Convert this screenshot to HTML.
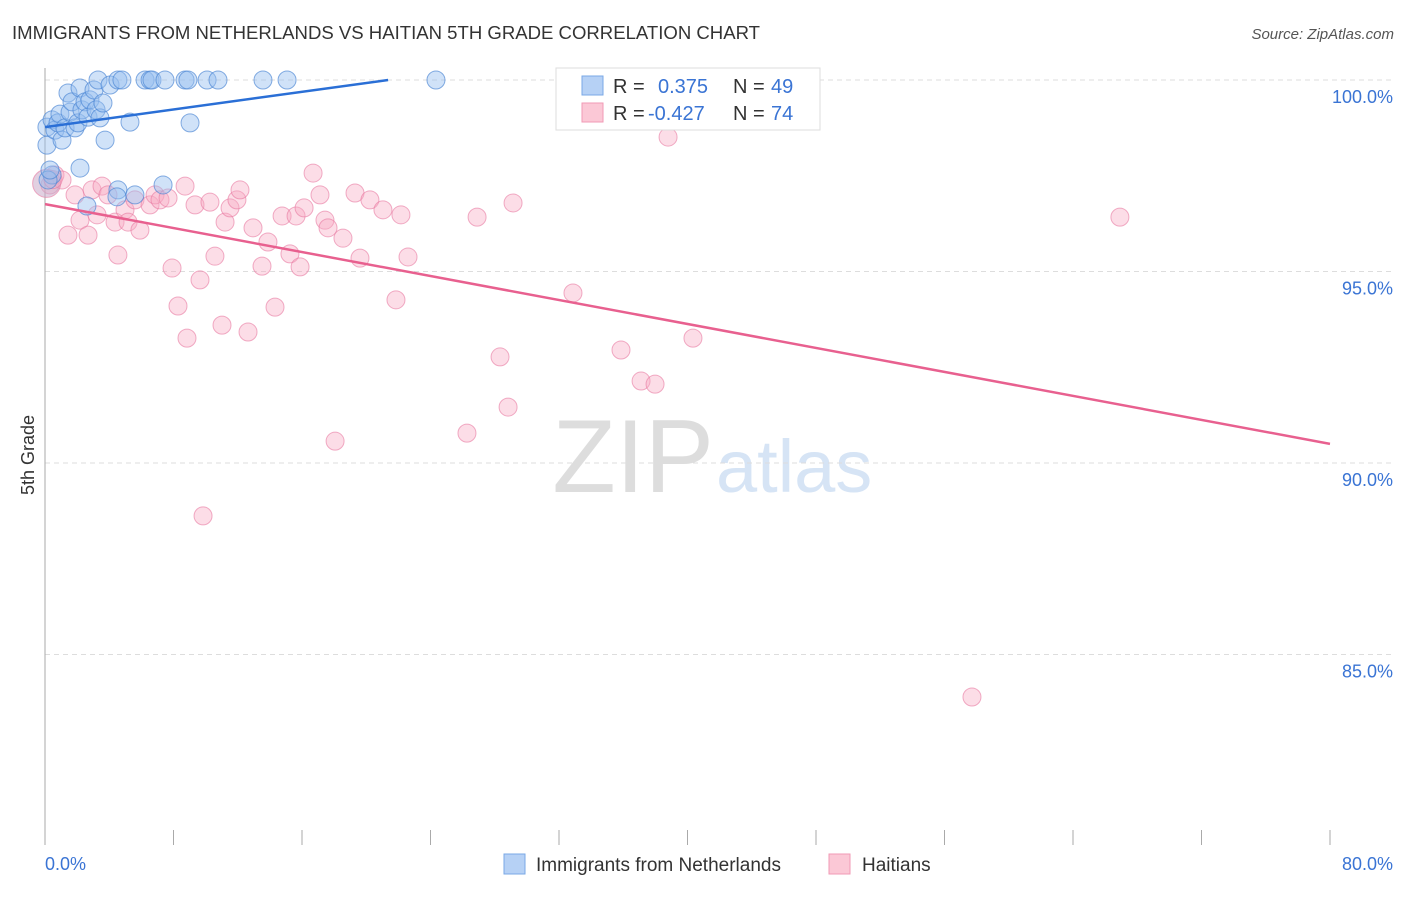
<!DOCTYPE html>
<html><head><meta charset="utf-8"><style>
body{margin:0;background:#fff;font-family:"Liberation Sans",sans-serif;}
svg text{font-family:"Liberation Sans",sans-serif;}
</style></head><body>
<svg id="chart" width="1406" height="892" viewBox="0 0 1406 892">
<text x="12" y="39" font-size="18" fill="#333" textLength="748" lengthAdjust="spacingAndGlyphs">IMMIGRANTS FROM NETHERLANDS VS HAITIAN 5TH GRADE CORRELATION CHART</text>
<text x="1394" y="39" font-size="15" fill="#555" text-anchor="end" font-style="italic">Source: ZipAtlas.com</text>
<text x="714" y="492" font-size="104" fill="#ddd" text-anchor="end" font-family="Liberation Serif">ZIP</text>
<text x="716" y="492" font-size="74" fill="#d6e4f5">atlas</text>
<g id="grid"></g>
<g id="axes"></g>
<g id="marks"></g>
<text x="34" y="455" font-size="18" fill="#333" text-anchor="middle" transform="rotate(-90 34 455)">5th Grade</text>
<g>
<rect x="556" y="68" width="264" height="62" fill="#fff" stroke="#ddd"/>
<rect x="582" y="76" width="21" height="19" fill="#b6d1f5" stroke="#7aa8e6"/>
<rect x="582" y="103" width="21" height="19" fill="#fbc8d6" stroke="#f09ab5"/>
<text x="613" y="93" font-size="20" fill="#333">R =</text>
<text x="658" y="93" font-size="20" fill="#3a74d4">0.375</text>
<text x="733" y="93" font-size="20" fill="#333">N =</text>
<text x="771" y="93" font-size="20" fill="#3a74d4">49</text>
<text x="613" y="120" font-size="20" fill="#333">R =</text>
<text x="648" y="120" font-size="20" fill="#3a74d4">-0.427</text>
<text x="733" y="120" font-size="20" fill="#333">N =</text>
<text x="771" y="120" font-size="20" fill="#3a74d4">74</text>
</g>
<g>
<rect x="504" y="854" width="21" height="20" fill="#b6d1f5" stroke="#7aa8e6"/>
<text x="536" y="871" font-size="19" fill="#333">Immigrants from Netherlands</text>
<rect x="829" y="854" width="21" height="20" fill="#fbc8d6" stroke="#f09ab5"/>
<text x="862" y="871" font-size="19" fill="#333">Haitians</text>
</g>
</svg>
<script>
const blueX=[0.12,0.12,0.44,0.62,0.81,0.93,1.06,1.25,1.43,1.56,1.68,1.87,2.05,2.18,2.30,2.49,2.68,2.80,3.05,3.18,3.30,3.42,3.61,3.74,4.05,4.54,4.79,5.29,6.23,6.54,6.66,7.47,8.72,8.90,9.03,10.09,10.77,13.57,15.07,24.34,2.18,4.54,4.48,5.60,7.35,2.61,0.44,0.19,0.31];
const blueY=[98.30,98.77,98.96,98.69,98.88,99.11,98.43,98.75,99.66,99.16,99.43,98.75,98.88,99.79,99.22,99.43,99.03,99.48,99.74,99.22,100,99.01,99.40,98.43,99.87,100,100,98.90,100,100,100,100,100,100,98.88,100,100,100,100,100,97.70,97.13,96.95,97.00,97.26,96.71,97.52,97.39,97.65];
const pinkX=[0.31,0.62,1.06,1.87,2.18,2.68,1.43,2.93,3.24,3.55,3.92,4.36,4.54,4.98,5.17,5.60,5.91,6.54,6.85,7.16,7.66,7.91,8.28,8.72,8.84,9.34,9.65,9.84,10.27,10.58,11.02,11.21,11.52,11.95,12.14,12.64,12.95,13.51,13.88,14.32,14.76,15.25,15.63,15.88,16.13,16.69,17.12,17.43,17.62,18.06,18.55,19.30,19.61,20.23,21.04,21.85,22.16,22.60,26.27,26.90,28.33,28.83,29.14,32.87,33.12,35.86,37.11,37.98,38.79,40.34,57.71,66.92,0.1,0.5];
const pinkY=[97.26,97.52,97.39,97.00,96.34,95.95,95.95,97.13,96.48,97.23,97.00,96.29,95.43,96.61,96.29,96.87,96.08,96.74,97.00,96.87,96.92,95.09,94.10,97.23,93.26,96.74,94.78,88.62,96.81,95.40,93.60,96.29,96.66,96.87,97.13,93.42,96.14,95.14,95.77,94.07,96.45,95.46,96.45,95.12,96.66,97.57,97.00,96.34,96.14,90.57,95.87,97.05,95.35,96.87,96.61,94.26,96.48,95.38,90.78,96.42,92.77,91.46,96.79,94.44,100,92.95,92.14,92.06,98.51,93.26,83.89,96.42,97.3,97.4];
const yTicks=[100,95,90,85];
const yTickLabels=["100.0%","95.0%","90.0%","85.0%"];
const xTicks=[0,8,16,24,32,40,48,56,64,72,80];
const blueTrend=[[0,98.77],[21.36,100]];
const pinkTrend=[[0,96.76],[80,90.50]];
const X0=45,X1=1330,Y100=80,PXPER=38.3;
const sx=v=>X0+(v/80)*(X1-X0);
const sy=v=>Y100+(100-v)*PXPER;
const NS="http://www.w3.org/2000/svg";
function mk(tag,attrs,parent){const e=document.createElementNS(NS,tag);for(const k in attrs)e.setAttribute(k,attrs[k]);parent.appendChild(e);return e;}
const grid=document.getElementById('grid'),axes=document.getElementById('axes'),marks=document.getElementById('marks');
yTicks.forEach((t,i)=>{
 const l=mk('line',{x1:X0,x2:1395,y1:sy(t),y2:sy(t),stroke:'#ddd','stroke-dasharray':'5,4'},grid);
 
 
 const tx=mk('text',{x:1393,y:sy(t)+23,'font-size':18,fill:'#3a74d4','text-anchor':'end'},axes);
 tx.textContent=yTickLabels[i];
 
 
});
const ya=mk('line',{x1:X0,x2:X0,y1:68,y2:845,stroke:'#aaa'},axes);


xTicks.forEach(t=>{
 const l=mk('line',{x1:sx(t),x2:sx(t),y1:830,y2:845,stroke:'#aaa'},axes);
 
 
});
const xl0=mk('text',{x:45,y:870,'font-size':18,fill:'#3a74d4'},axes);xl0.textContent='0.0%';


const xl1=mk('text',{x:1393,y:870,'font-size':18,fill:'#3a74d4','text-anchor':'end'},axes);xl1.textContent='80.0%';


pinkX.forEach((x,i)=>{
 const big=(i===pinkX.length-2);
 const c=mk('circle',{cx:sx(x),cy:sy(pinkY[i]),r:big?14:9,fill:big?'rgba(200,170,200,0.55)':'rgba(248,170,195,0.4)',stroke:'rgba(232,120,160,0.6)','stroke-width':1},marks);
 
 
});
blueX.forEach((x,i)=>{
 const c=mk('circle',{cx:sx(x),cy:sy(blueY[i]),r:9,fill:'rgba(150,190,240,0.45)',stroke:'rgba(70,130,210,0.65)','stroke-width':1},marks);
 
 
});
const bt=mk('line',{x1:sx(blueTrend[0][0]),y1:sy(blueTrend[0][1]),x2:sx(blueTrend[1][0]),y2:sy(blueTrend[1][1]),stroke:'#2a6fd6','stroke-width':2.5},marks);


const pt=mk('line',{x1:sx(pinkTrend[0][0]),y1:sy(pinkTrend[0][1]),x2:sx(pinkTrend[1][0]),y2:sy(pinkTrend[1][1]),stroke:'#e8608f','stroke-width':2.5},marks);


</script>
</body></html>
